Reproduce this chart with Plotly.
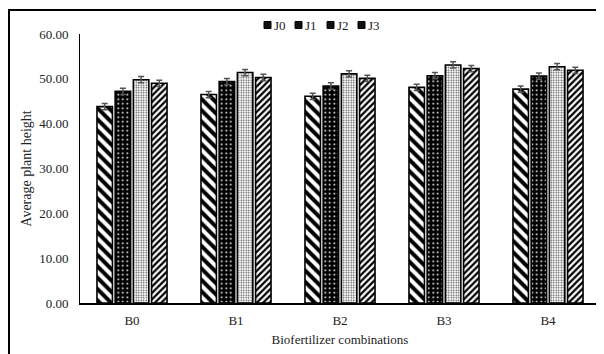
import plotly.graph_objects as go

categories = ["B0", "B1", "B2", "B3", "B4"]
series_names = ["J0", "J1", "J2", "J3"]
J0 = [43.8, 46.5, 46.1, 48.1, 47.7]
J1 = [47.2, 49.4, 48.4, 50.7, 50.6]
J2 = [49.8, 51.4, 51.1, 53.1, 52.7]
J3 = [49.0, 50.3, 50.1, 52.3, 51.9]
errors = [0.7, 0.7, 0.7, 0.7, 0.7]
values = [J0, J1, J2, J3]

patterns = [
    dict(shape="\\", fgcolor="black", bgcolor="white", size=8, solidity=0.5, fgopacity=1),
    dict(shape=".", fgcolor="white", bgcolor="black", size=4.5, solidity=0.14, fgopacity=1),
    dict(shape=".", fgcolor="#444444", bgcolor="white", size=2.5, solidity=0.3, fgopacity=1),
    dict(shape="/", fgcolor="black", bgcolor="white", size=4.5, solidity=0.5, fgopacity=1),
]

fig = go.Figure()
for name, vals, pat in zip(series_names, values, patterns):
    fig.add_trace(go.Bar(
        x=categories, y=vals, name=name, showlegend=False,
        marker=dict(color="white", pattern=pat, line=dict(color="black", width=1.6)),
        error_y=dict(type="data", array=errors, visible=True, color="#555555", thickness=1.5, width=3),
    ))

W, H = 596, 346
OFF = 8  # default page body margin
L, R, T, B = 72, 4, 26, 51
fig.update_layout(
    width=W, height=H,
    margin=dict(l=L, r=R, t=T, b=B),
    paper_bgcolor="white", plot_bgcolor="white",
    barmode="group", bargap=0.3, bargroupgap=0.15,
    font=dict(family="Liberation Serif", color="#222222", size=13),
    showlegend=False,
    xaxis=dict(showline=True, linecolor="black", linewidth=1.5, ticks="", showgrid=False,
               automargin=False, ticklabelstandoff=5,
               title=dict(text="Biofertilizer combinations", font=dict(size=13), standoff=8)),
    yaxis=dict(range=[0, 60], dtick=10, tickformat=".2f", showline=True, linecolor="black",
               linewidth=1, ticks="", showgrid=False, zeroline=False, automargin=False,
               ticklabelstandoff=8,
               title=dict(text="Average plant height", font=dict(size=14), standoff=4)),
)

pw, ph = W - L - R, H - T - B
def px_x(p):
    return (p - OFF - L) / pw
def px_y(p):
    return (H - B - (p - OFF)) / ph

# outer frame (only left and top edges visible in the reference)
fig.add_shape(type="line", xref="paper", yref="paper",
              x0=px_x(9), x1=px_x(9), y0=px_y(400), y1=px_y(9),
              line=dict(color="black", width=2))
fig.add_shape(type="line", xref="paper", yref="paper",
              x0=px_x(8), x1=px_x(700), y0=px_y(10), y1=px_y(10),
              line=dict(color="black", width=2))

# custom legend (compact, like the reference)
legend_x = [264, 295, 327, 358]
ly = 25
for name, lx in zip(series_names, legend_x):
    fig.add_shape(type="rect", xref="paper", yref="paper",
                  x0=px_x(lx), x1=px_x(lx + 7), y0=px_y(ly + 3.5), y1=px_y(ly - 3.5),
                  line=dict(color="black", width=1), fillcolor="#111111")
    fig.add_annotation(xref="paper", yref="paper", x=px_x(lx + 8), y=px_y(ly),
                       text=name, showarrow=False, xanchor="left", yanchor="middle",
                       font=dict(size=13, family="Liberation Serif", color="#222222"))

fig.write_html("out.html")
